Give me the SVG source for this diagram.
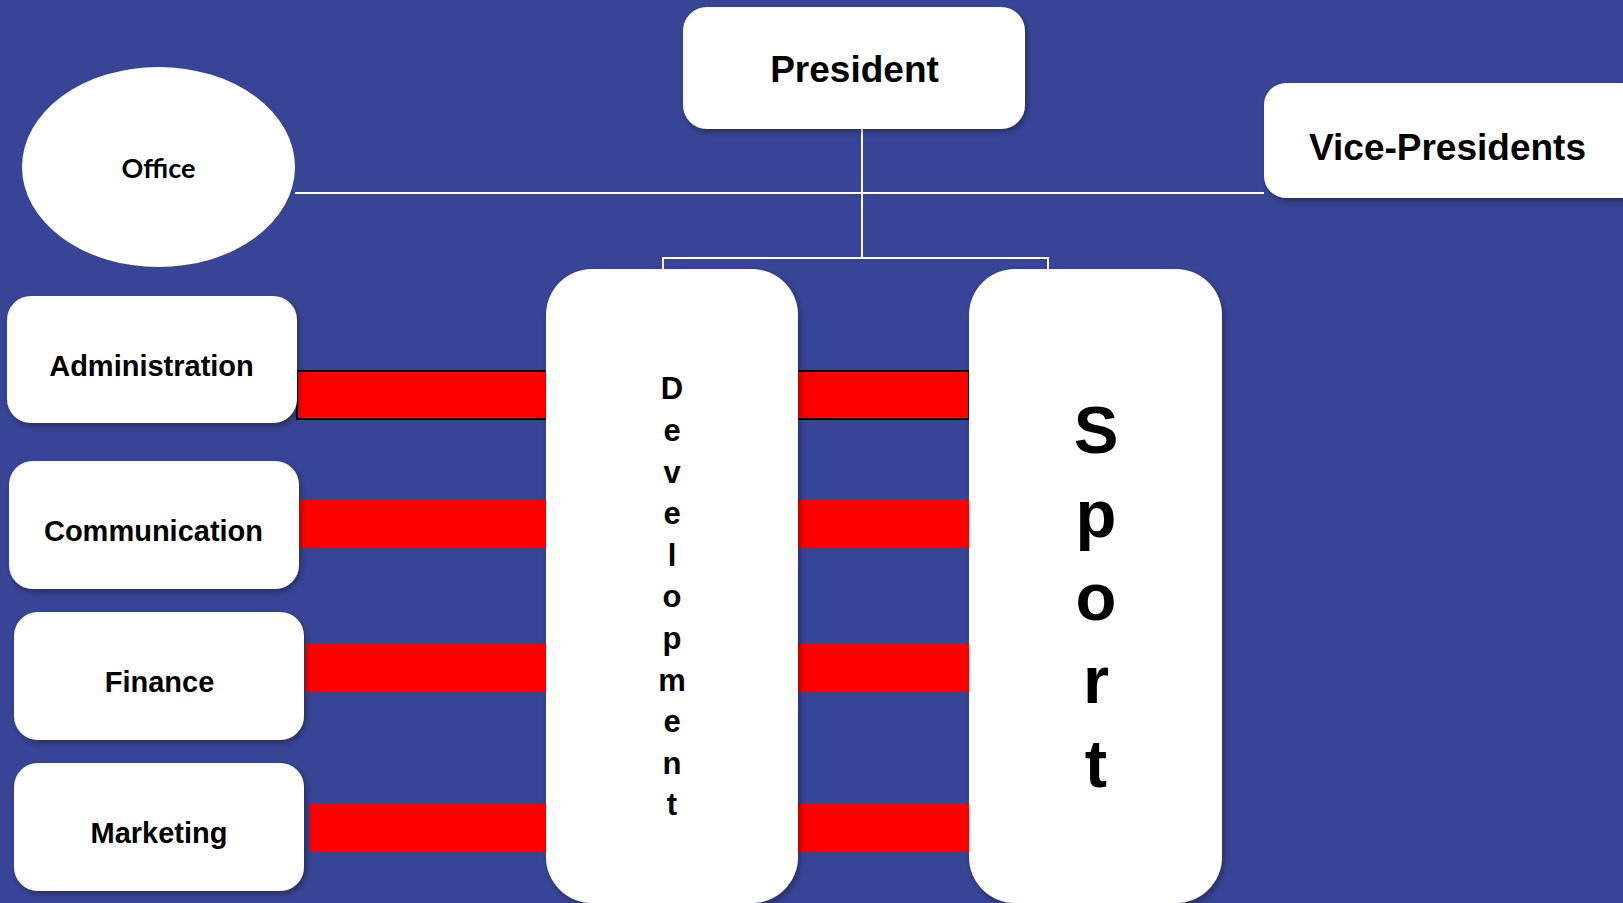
<svg xmlns="http://www.w3.org/2000/svg" width="1623" height="903" viewBox="0 0 1623 903">
<defs>
<filter id="sh" x="-10%" y="-10%" width="120%" height="120%">
<feDropShadow dx="2" dy="3" stdDeviation="3" flood-color="#000" flood-opacity="0.35"/>
</filter>
<style>
.box{fill:#fff;filter:url(#sh)}
.t{font-family:"Liberation Sans",Arial,sans-serif;font-weight:bold;fill:#000;text-anchor:middle}
.d{font-size:31px}
.s{font-size:67px}
.conn{stroke:#fff;stroke-width:2;fill:none}
.bar{fill:#ff0000}
</style>
</defs>
<rect width="1623" height="903" fill="#384597"/>
<g id="bars">
<rect class="bar" x="297" y="371" width="672" height="48" stroke="#000" stroke-width="2"/>
<rect class="bar" x="299" y="499" width="670" height="49"/>
<rect class="bar" x="305" y="643" width="664" height="49"/>
<rect class="bar" x="309" y="803" width="660" height="49"/>
</g>
<g id="connectors">
<line class="conn" x1="862" y1="129" x2="862" y2="258"/>
<line class="conn" x1="295" y1="193" x2="1264" y2="193"/>
<polyline class="conn" points="663,270 663,258 1048,258 1048,270"/>
</g>
<g id="president">
<rect class="box" x="683" y="7" width="342" height="122" rx="24"/>
<text class="t" x="854.5" y="82" font-size="37">President</text>
</g>
<g id="vice-presidents">
<rect class="box" x="1264" y="83" width="380" height="115" rx="22"/>
<text class="t" x="1447.5" y="160" font-size="37">Vice-Presidents</text>
</g>
<g id="office">
<ellipse cx="158.5" cy="167" rx="136.5" ry="100" fill="#fff"/>
<text x="158.5" y="178" font-size="27" font-family="Lato,'Open Sans',sans-serif" font-weight="bold" text-anchor="middle" fill="#000">Office</text>
</g>
<g id="administration">
<rect class="box" x="7" y="296" width="290" height="127" rx="24"/>
<text class="t" x="151.5" y="376" font-size="29">Administration</text>
</g>
<g id="communication">
<rect class="box" x="9" y="461" width="290" height="128" rx="24"/>
<text class="t" x="153.5" y="541" font-size="29">Communication</text>
</g>
<g id="finance">
<rect class="box" x="14" y="612" width="290" height="128" rx="24"/>
<text class="t" x="159.5" y="692" font-size="29">Finance</text>
</g>
<g id="marketing">
<rect class="box" x="14" y="763" width="290" height="128" rx="24"/>
<text class="t" x="159" y="843" font-size="29">Marketing</text>
</g>
<g id="development">
<rect class="box" x="546" y="269" width="252" height="634" rx="46"/>
<text class="t d" x="672" y="399">D</text>
<text class="t d" x="672" y="441">e</text>
<text class="t d" x="672" y="483">v</text>
<text class="t d" x="672" y="524">e</text>
<text class="t d" x="672" y="566">l</text>
<text class="t d" x="672" y="607">o</text>
<text class="t d" x="672" y="649">p</text>
<text class="t d" x="672" y="691">m</text>
<text class="t d" x="672" y="732">e</text>
<text class="t d" x="672" y="774">n</text>
<text class="t d" x="672" y="815">t</text>
</g>
<g id="sport">
<rect class="box" x="969" y="269" width="253" height="634" rx="46"/>
<text class="t s" x="1096" y="453">S</text>
<text class="t s" x="1096" y="537">p</text>
<text class="t s" x="1096" y="620">o</text>
<text class="t s" x="1096" y="703">r</text>
<text class="t s" x="1096" y="787">t</text>
</g>
</svg>
